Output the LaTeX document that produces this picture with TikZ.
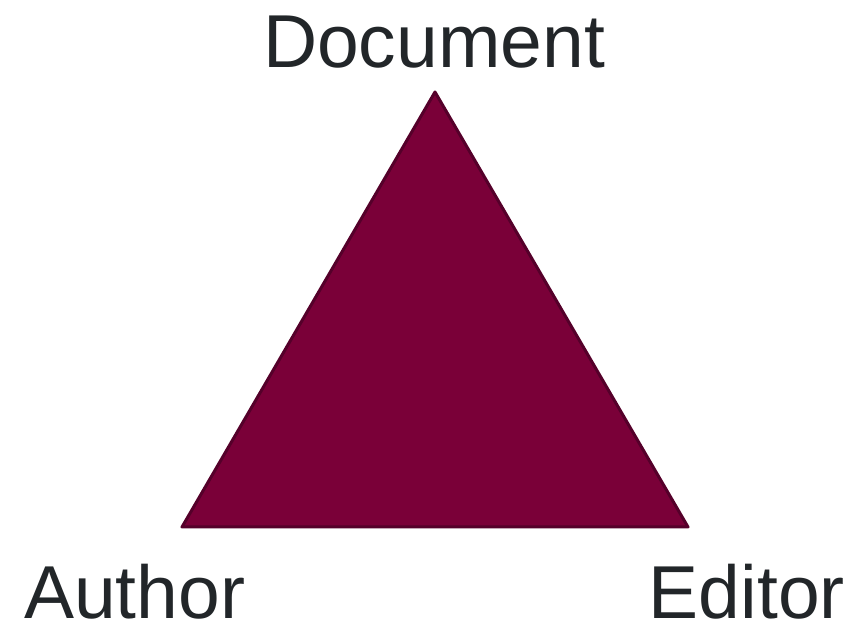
\documentclass[tikz,border=0pt]{standalone}
\usepackage{fontspec}
\setmainfont{Liberation Sans}
\definecolor{maroonfill}{HTML}{7A0038}
\definecolor{maroonedge}{HTML}{55002A}
\definecolor{labelgray}{HTML}{222629}

\begin{document}
\begin{tikzpicture}[x=1pt, y=1pt,
    Label/.style = {inner sep=0pt, text=labelgray, font=\fontsize{75}{75}\selectfont},
    Side/.style = {fill=maroonfill, draw=maroonedge, line width=3pt, line join=round}]
    \useasboundingbox (0,0) rectangle (861,626);
    % Corners
    \coordinate (doc) at (435,534);
    \coordinate (auth) at (182,99);
    \coordinate (edit) at (688,99);

    % Triangle
    \filldraw[Side] (doc) -- (auth) -- (edit) -- cycle;

    % Labels
    \node[Label, anchor=base] (document) at (434,558) {Document};
    \node[Label, anchor=base west] (author) at (24,8) {Author};
    \node[Label, anchor=base east] (editor) at (845,8) {Editor};
\end{tikzpicture}
\end{document}
